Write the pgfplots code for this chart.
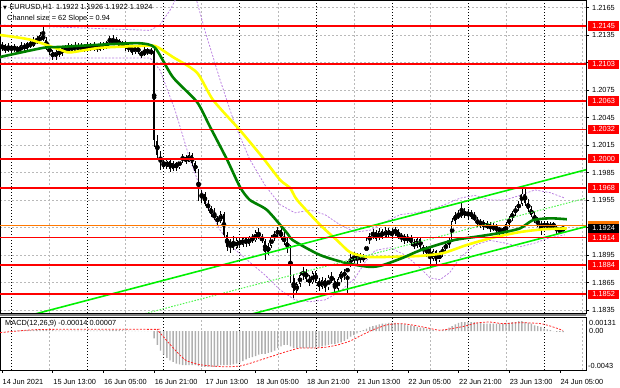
\documentclass[border=0pt]{standalone}
\usepackage{pgfplots}
\pgfplotsset{compat=1.18}
\usepackage{pgfplotstable}
\usepackage{fontspec}
\setmainfont{Liberation Sans}
\newfontfamily\symfont{DejaVu Sans}
\newcommand\lbl{\fontsize{7.4}{8.5}\selectfont}
\definecolor{gridgray}{RGB}{185,185,185}
\definecolor{lvlred}{RGB}{255,0,0}
\definecolor{madark}{RGB}{0,128,0}
\definecolor{mayel}{RGB}{255,255,0}
\definecolor{chan}{RGB}{0,240,0}
\definecolor{bband}{RGB}{185,125,225}
\definecolor{hist}{RGB}{175,175,175}
\definecolor{curorange}{RGB}{255,120,0}
\definecolor{sepgray}{RGB}{128,128,128}

\pgfplotstableread{
i o h l c
0 1.2120 1.2127 1.2118 1.2124
1 1.2124 1.2125 1.2115 1.2118
2 1.2118 1.2126 1.2117 1.2123
3 1.2123 1.2124 1.2116 1.2119
4 1.2119 1.2125 1.2117 1.2122
5 1.2122 1.2123 1.2114 1.2117
6 1.2117 1.2127 1.2116 1.2124
7 1.2124 1.2126 1.2118 1.2120
8 1.2120 1.2128 1.2119 1.2126
9 1.2126 1.2129 1.2121 1.2123
10 1.2123 1.2133 1.2122 1.2130
11 1.2130 1.2134 1.2125 1.2127
12 1.2127 1.2138 1.2126 1.2135
13 1.2135 1.2146 1.2128 1.2130
14 1.2130 1.2133 1.2119 1.2121
15 1.2121 1.2124 1.2113 1.2116
16 1.2116 1.2119 1.2108 1.2111
17 1.2111 1.2119 1.2108 1.2117
18 1.2117 1.2120 1.2111 1.2114
19 1.2114 1.2123 1.2112 1.2121
20 1.2121 1.2124 1.2115 1.2117
21 1.2117 1.2126 1.2115 1.2123
22 1.2123 1.2125 1.2116 1.2118
23 1.2118 1.2127 1.2117 1.2124
24 1.2124 1.2126 1.2117 1.2119
25 1.2119 1.2126 1.2117 1.2123
26 1.2123 1.2125 1.2117 1.2120
27 1.2120 1.2127 1.2118 1.2125
28 1.2125 1.2126 1.2118 1.2120
29 1.2120 1.2127 1.2118 1.2124
30 1.2124 1.2125 1.2117 1.2119
31 1.2119 1.2127 1.2118 1.2125
32 1.2125 1.2127 1.2119 1.2121
33 1.2121 1.2129 1.2120 1.2127
34 1.2127 1.2134 1.2125 1.2131
35 1.2131 1.2135 1.2124 1.2126
36 1.2126 1.2133 1.2124 1.2130
37 1.2130 1.2131 1.2121 1.2123
38 1.2123 1.2129 1.2121 1.2127
39 1.2127 1.2128 1.2118 1.2120
40 1.2120 1.2125 1.2117 1.2123
41 1.2123 1.2124 1.2113 1.2116
42 1.2116 1.2124 1.2114 1.2122
43 1.2122 1.2123 1.2114 1.2116
44 1.2116 1.2118 1.2110 1.2113
45 1.2113 1.2122 1.2112 1.2120
46 1.2120 1.2121 1.2113 1.2115
47 1.2115 1.2121 1.2113 1.2118
48 1.2118 1.2121 1.2013 1.2020
49 1.2020 1.2026 1.2000 1.2004
50 1.2004 1.2008 1.1988 1.1996
51 1.1996 1.2001 1.1989 1.1991
52 1.1991 1.2000 1.1989 1.1998
53 1.1998 1.2000 1.1986 1.1989
54 1.1989 1.1998 1.1987 1.1995
55 1.1995 1.1997 1.1987 1.1990
56 1.1990 1.2001 1.1989 1.1999
57 1.1999 1.2005 1.1995 1.2002
58 1.2002 1.2004 1.1994 1.1997
59 1.1997 1.2007 1.1996 1.2004
60 1.2004 1.2006 1.1992 1.1995
61 1.1995 1.1998 1.1984 1.1987
62 1.1987 1.1989 1.1954 1.1958
63 1.1958 1.1966 1.1952 1.1962
64 1.1962 1.1964 1.1948 1.1951
65 1.1951 1.1955 1.1943 1.1946
66 1.1946 1.1949 1.1936 1.1940
67 1.1940 1.1946 1.1933 1.1935
68 1.1935 1.1938 1.1928 1.1932
69 1.1932 1.1943 1.1930 1.1940
70 1.1940 1.1942 1.1914 1.1917
71 1.1917 1.1920 1.1899 1.1904
72 1.1904 1.1913 1.1897 1.1910
73 1.1910 1.1916 1.1900 1.1903
74 1.1903 1.1914 1.1901 1.1911
75 1.1911 1.1913 1.1903 1.1906
76 1.1906 1.1915 1.1904 1.1913
77 1.1913 1.1915 1.1904 1.1907
78 1.1907 1.1916 1.1905 1.1914
79 1.1914 1.1918 1.1908 1.1911
80 1.1911 1.1922 1.1909 1.1920
81 1.1920 1.1924 1.1912 1.1915
82 1.1915 1.1918 1.1908 1.1910
83 1.1910 1.1912 1.1890 1.1898
84 1.1898 1.1908 1.1895 1.1905
85 1.1905 1.1917 1.1903 1.1914
86 1.1914 1.1921 1.1910 1.1918
87 1.1918 1.1926 1.1914 1.1922
88 1.1922 1.1924 1.1911 1.1914
89 1.1914 1.1920 1.1906 1.1909
90 1.1909 1.1915 1.1897 1.1903
91 1.1903 1.1906 1.1865 1.1870
92 1.1870 1.1874 1.1848 1.1856
93 1.1856 1.1866 1.1852 1.1863
94 1.1863 1.1876 1.1860 1.1873
95 1.1873 1.1882 1.1868 1.1877
96 1.1877 1.1880 1.1866 1.1869
97 1.1869 1.1873 1.1861 1.1865
98 1.1865 1.1878 1.1863 1.1875
99 1.1875 1.1878 1.1864 1.1867
100 1.1867 1.1870 1.1856 1.1860
101 1.1860 1.1871 1.1858 1.1868
102 1.1868 1.1870 1.1855 1.1859
103 1.1859 1.1873 1.1857 1.1871
104 1.1871 1.1876 1.1864 1.1867
105 1.1867 1.1870 1.1851 1.1858
106 1.1858 1.1871 1.1856 1.1869
107 1.1869 1.1878 1.1866 1.1876
108 1.1876 1.1880 1.1868 1.1872
109 1.1872 1.1888 1.1852 1.1885
110 1.1885 1.1896 1.1882 1.1893
111 1.1893 1.1898 1.1886 1.1889
112 1.1889 1.1897 1.1885 1.1895
113 1.1895 1.1897 1.1886 1.1890
114 1.1890 1.1896 1.1887 1.1893
115 1.1893 1.1914 1.1891 1.1911
116 1.1911 1.1919 1.1907 1.1916
117 1.1916 1.1923 1.1912 1.1920
118 1.1920 1.1922 1.1910 1.1913
119 1.1913 1.1924 1.1911 1.1921
120 1.1921 1.1923 1.1913 1.1915
121 1.1915 1.1925 1.1913 1.1922
122 1.1922 1.1924 1.1914 1.1917
123 1.1917 1.1923 1.1913 1.1920
124 1.1920 1.1925 1.1916 1.1922
125 1.1922 1.1923 1.1912 1.1914
126 1.1914 1.1919 1.1909 1.1916
127 1.1916 1.1918 1.1907 1.1910
128 1.1910 1.1918 1.1908 1.1915
129 1.1915 1.1917 1.1905 1.1908
130 1.1908 1.1912 1.1902 1.1905
131 1.1905 1.1914 1.1903 1.1912
132 1.1912 1.1914 1.1901 1.1904
133 1.1904 1.1906 1.1896 1.1899
134 1.1899 1.1905 1.1893 1.1902
135 1.1902 1.1904 1.1882 1.1891
136 1.1891 1.1902 1.1889 1.1899
137 1.1899 1.1901 1.1884 1.1889
138 1.1889 1.1899 1.1887 1.1897
139 1.1897 1.1904 1.1893 1.1901
140 1.1901 1.1910 1.1898 1.1907
141 1.1907 1.1914 1.1903 1.1911
142 1.1911 1.1935 1.1909 1.1932
143 1.1932 1.1942 1.1929 1.1939
144 1.1939 1.1944 1.1934 1.1937
145 1.1937 1.1953 1.1935 1.1943
146 1.1943 1.1946 1.1935 1.1938
147 1.1938 1.1945 1.1934 1.1942
148 1.1942 1.1944 1.1934 1.1937
149 1.1937 1.1942 1.1932 1.1934
150 1.1934 1.1936 1.1926 1.1929
151 1.1929 1.1934 1.1924 1.1931
152 1.1931 1.1933 1.1922 1.1925
153 1.1925 1.1932 1.1923 1.1929
154 1.1929 1.1931 1.1920 1.1923
155 1.1923 1.1930 1.1921 1.1927
156 1.1927 1.1929 1.1918 1.1921
157 1.1921 1.1926 1.1915 1.1924
158 1.1924 1.1926 1.1916 1.1919
159 1.1919 1.1931 1.1917 1.1929
160 1.1929 1.1938 1.1926 1.1935
161 1.1935 1.1943 1.1932 1.1941
162 1.1941 1.1949 1.1938 1.1946
163 1.1946 1.1954 1.1943 1.1951
164 1.1951 1.1969 1.1949 1.1962
165 1.1962 1.1967 1.1949 1.1952
166 1.1952 1.1956 1.1942 1.1945
167 1.1945 1.1948 1.1936 1.1939
168 1.1939 1.1942 1.1930 1.1932
169 1.1932 1.1936 1.1926 1.1929
170 1.1929 1.1932 1.1917 1.1925
171 1.1925 1.1932 1.1923 1.1930
172 1.1930 1.1932 1.1922 1.1925
173 1.1925 1.1931 1.1922 1.1929
174 1.1929 1.1931 1.1923 1.1926
175 1.1926 1.1928 1.1918 1.1921
176 1.1921 1.1926 1.1919 1.1922
177 1.1922 1.1926 1.1922 1.1924
}\candles

\pgfplotstableread{
i m
0 -0.00003
1 -0.00002
2 0.00001
3 0.00003
4 0.00004
5 0.00005
6 0.00007
7 0.00008
8 0.00010
9 0.00012
10 0.00015
11 0.00018
12 0.00022
13 0.00022
14 0.00018
15 0.00014
16 0.00010
17 0.00006
18 0.00005
19 0.00005
20 0.00006
21 0.00005
22 0.00005
23 0.00006
24 0.00005
25 0.00005
26 0.00006
27 0.00006
28 0.00005
29 0.00006
30 0.00006
31 0.00007
32 0.00007
33 0.00008
34 0.00010
35 0.00013
36 0.00012
37 0.00010
38 0.00010
39 0.00008
40 0.00006
41 0.00003
42 0.00003
43 0.00002
44 -0.00001
45 0.00000
46 -0.00001
47 -0.00001
48 -0.0009
49 -0.0017
50 -0.0024
51 -0.0029
52 -0.0033
53 -0.0036
54 -0.0038
55 -0.0040
56 -0.0041
57 -0.0042
58 -0.0042
59 -0.0042
60 -0.0042
61 -0.0042
62 -0.0043
63 -0.0044
64 -0.0044
65 -0.0044
66 -0.0044
67 -0.0044
68 -0.0043
69 -0.0042
70 -0.0042
71 -0.0042
72 -0.0042
73 -0.0041
74 -0.0040
75 -0.0039
76 -0.0037
77 -0.0035
78 -0.0033
79 -0.0032
80 -0.0031
81 -0.0029
82 -0.0028
83 -0.0028
84 -0.0027
85 -0.0026
86 -0.0024
87 -0.0021
88 -0.0019
89 -0.0017
90 -0.0017
91 -0.0019
92 -0.0021
93 -0.0021
94 -0.0021
95 -0.0021
96 -0.0021
97 -0.0021
98 -0.0021
99 -0.0020
100 -0.0020
101 -0.0019
102 -0.0018
103 -0.0017
104 -0.0016
105 -0.0016
106 -0.0015
107 -0.0014
108 -0.0012
109 -0.0010
110 -0.0007
111 -0.0005
112 -0.0003
113 -0.0001
114 0.0001
115 0.0003
116 0.0005
117 0.0006
118 0.0007
119 0.0008
120 0.0009
121 0.0009
122 0.0010
123 0.0010
124 0.0010
125 0.0009
126 0.0009
127 0.0008
128 0.0007
129 0.0007
130 0.0006
131 0.0005
132 0.0004
133 0.0004
134 0.0003
135 0.0002
136 0.0001
137 0.0000
138 0.0000
139 0.0001
140 0.0002
141 0.0004
142 0.0006
143 0.0008
144 0.0010
145 0.0011
146 0.0011
147 0.0011
148 0.0011
149 0.0011
150 0.0010
151 0.0010
152 0.0009
153 0.0009
154 0.0009
155 0.0009
156 0.0009
157 0.0009
158 0.0009
159 0.0010
160 0.0010
161 0.0011
162 0.0011
163 0.0012
164 0.0012
165 0.0011
166 0.0010
167 0.0009
168 0.0007
169 0.0006
170 0.0005
171 0.0003
172 0.0002
173 0.0001
174 0.0000
175 -0.0001
176 -0.0001
177 -0.00014
}\macd

\begin{document}
\begin{tikzpicture}
\useasboundingbox (0,0) rectangle (620bp,388bp);

% ---------------- main price panel ----------------
\begin{axis}[
  at={(0bp,388bp)}, anchor=north west,
  width=586bp, height=313bp, scale only axis,
  xmin=-0.63, xmax=184.23, ymin=1.18317, ymax=1.21732,
  clip mode=individual,
  axis line style={black, line width=0.5bp},
  xtick={15,39,63,87,111,135,159,183}, xticklabels={},
  xtick style={draw=none},
  extra x ticks={3,27,51,75,99,123,147,171}, extra x tick labels={},
  extra x tick style={grid=major, major tick length=0pt,
     major grid style={black, dash pattern=on 1bp off 2bp, line width=0.6bp}},
  ytick={1.1835,1.1865,1.1895,1.1925,1.1955,1.1985,1.2015,1.2045,1.2075,1.2105,1.2135,1.2165},
  yticklabels={}, ytick pos=right, tick align=outside, major tick length=3bp,
  ytick style={black, line width=0.5bp},
  grid=major,
  major grid style={gridgray, dash pattern=on 2bp off 2bp, line width=0.5bp},
  scaled y ticks=false, scaled x ticks=false,
]
% Bollinger-type bands
\addplot[bband, dash pattern=on 2bp off 1.5bp, line width=0.75bp] coordinates {
(-0.6,1.2110) (46.7,1.2110) (49.8,1.2097) (54.6,1.2053) (59.3,1.1999) (64.0,1.1955)
(68.8,1.1922) (73.5,1.1901) (78.2,1.1887) (83.0,1.1873) (87.7,1.1857) (92.4,1.1846)
(97.2,1.1844) (101.9,1.1846) (106.6,1.1855) (111.4,1.1870) (114.5,1.1887) (117.7,1.1900)
(122.4,1.1903) (127.1,1.1895) (131.9,1.1881) (135.0,1.1870) (138.2,1.1868) (141.3,1.1876)
(144.5,1.1892) (149.2,1.1906) (153.9,1.1911) (158.7,1.1908) (163.4,1.1904) (168.1,1.1908)
(172.9,1.1914) (177.6,1.1917)};
\addplot[bband, dash pattern=on 2bp off 1.5bp, line width=0.75bp] coordinates {
(-0.6,1.2146) (46.7,1.2140) (49.8,1.2146) (53.0,1.2162) (55.5,1.2179) (60.9,1.2179)
(64.0,1.2140) (68.8,1.2086) (73.5,1.2037) (78.2,1.1999) (83.0,1.1971) (87.7,1.1950)
(92.4,1.1941) (97.2,1.1944) (101.9,1.1939) (106.6,1.1928) (111.4,1.1920) (116.1,1.1922)
(120.8,1.1931) (125.6,1.1939) (130.3,1.1941) (135.0,1.1944) (139.7,1.1950) (144.5,1.1957)
(149.2,1.1960) (153.9,1.1955) (158.7,1.1955) (163.4,1.1960) (168.1,1.1966) (172.9,1.1963)
(177.6,1.1957)};
% candles: wicks
\addplot[only marks, mark=none, forget plot,
  error bars/.cd, y dir=both, y explicit, error mark=none,
  error bar style={black, solid, line width=0.7bp, line cap=butt}]
  table[x=i, y expr={(\thisrow{h}+\thisrow{l})/2}, y error expr={(\thisrow{h}-\thisrow{l})/2}] {\candles};
% candles: bodies
\addplot[only marks, mark=none, forget plot,
  error bars/.cd, y dir=both, y explicit, error mark=none,
  error bar style={black, solid, line width=1.9bp, line cap=butt}]
  table[x=i, y expr={(\thisrow{o}+\thisrow{c})/2}, y error expr={max(abs(\thisrow{c}-\thisrow{o})/2,0.00004)}] {\candles};
% bullish bodies hollow
\addplot[only marks, mark=none, forget plot,
  error bars/.cd, y dir=both, y explicit, error mark=none,
  error bar style={white, solid, line width=0.7bp, line cap=butt}]
  table[x=i, y expr={(\thisrow{o}+\thisrow{c})/2}, y error expr={max((\thisrow{c}-\thisrow{o})/2-0.00009,0)}] {\candles};
% moving averages
\addplot[mayel, line width=2.6bp, smooth, tension=0.4] coordinates {
(-0.6,1.2135) (8.8,1.2130) (18.3,1.2119) (21.5,1.2116) (30.9,1.2121) (43.5,1.2123)
(48.3,1.2123) (53.9,1.2111) (61.5,1.2094) (66.6,1.2064) (75.1,1.2031) (82.3,1.2001)
(87.7,1.1977) (90.9,1.1968) (93.1,1.1955) (100.3,1.1928) (105.7,1.1911) (109.8,1.1898)
(115.1,1.1893) (123.3,1.1893) (131.9,1.1894) (139.1,1.1897) (146.7,1.1906) (154.9,1.1914)
(163.4,1.1920) (170.7,1.1923) (178.2,1.1924)};
\addplot[madark, line width=2.6bp, smooth, tension=0.4] coordinates {
(-0.6,1.2111) (13,1.2121) (18.3,1.2122) (34.1,1.2125) (43.5,1.2126) (48.3,1.2121)
(53.9,1.2089) (61.5,1.2062) (65.6,1.2035) (71,1.1999) (75.1,1.1969) (78.2,1.1955)
(83.6,1.1944) (89.9,1.1919) (91.8,1.1911) (100.3,1.1895) (108.8,1.1886) (116.1,1.1882)
(120.2,1.1884) (126.5,1.1892) (131.9,1.1900) (142.3,1.1911) (149.8,1.1915) (157.1,1.1919)
(163.4,1.1924) (167.5,1.1933) (172.9,1.1935) (178.2,1.1934)};
% regression channel
\addplot[chan, line width=1.6bp] coordinates {(-0.63,1.18206) (184.23,1.19880)};
\addplot[chan, line width=1.6bp] coordinates {(-0.63,1.17586) (184.23,1.19260)};
\addplot[chan!70, line width=1bp, dash pattern=on 1.5bp off 1.5bp] coordinates {(-0.63,1.17896) (184.23,1.19570)};
% horizontal levels
\pgfplotsinvokeforeach{1.2145,1.2103,1.2063,1.2032,1.2000,1.1968,1.1914,1.1884,1.1852}{
  \addplot[lvlred, line width=1.8bp] coordinates {(-1,#1) (185,#1)};
}
\addplot[curorange, line width=0.8bp] coordinates {(-1,1.1927) (185,1.1927)};
% right-hand price labels
\pgfplotsinvokeforeach{1.1835,1.1865,1.1895,1.1955,1.1985,1.2015,1.2045,1.2075,1.2135,1.2165}{
  \node[font=\lbl, anchor=west, inner sep=0pt] at ([xshift=6bp]axis cs:184.23,#1) {#1};
}
\pgfplotsinvokeforeach{1.2145,1.2103,1.2063,1.2032,1.2000,1.1968,1.1914,1.1884,1.1852}{
  \node[fill=lvlred, text=white, font=\lbl, inner sep=0pt, minimum width=31bp, minimum height=9.5bp, anchor=west] at ([xshift=2bp]axis cs:184.23,#1) {#1};
}
\node[fill=curorange, inner sep=0pt, minimum width=31bp, minimum height=9.5bp, anchor=west] at ([xshift=2bp]axis cs:184.23,1.1927) {};
\node[fill=black, text=white, font=\lbl, inner sep=0pt, minimum width=31bp, minimum height=9.5bp, anchor=west] at ([xshift=2bp]axis cs:184.23,1.1924) {1.1924};
\end{axis}

% ---------------- MACD panel ----------------
\begin{axis}[
  at={(0bp,71bp)}, anchor=north west,
  width=586bp, height=53bp, scale only axis,
  xmin=-0.63, xmax=184.23, ymin=-0.00479, ymax=0.00172,
  clip mode=individual,
  axis line style={black, line width=0.5bp},
  xtick={0,16,...,176},
  xticklabels={14 Jun 2021,15 Jun 13:00,16 Jun 05:00,16 Jun 21:00,17 Jun 13:00,18 Jun 05:00,18 Jun 21:00,21 Jun 13:00,22 Jun 05:00,22 Jun 21:00,23 Jun 13:00,24 Jun 05:00},
  xtick pos=bottom, tick align=outside, major tick length=3bp,
  xtick style={black, line width=0.5bp},
  xticklabel style={font=\lbl, anchor=north west, inner sep=0pt, xshift=0.5bp, yshift=-6bp},
  minor xtick={15,39,63,87,111,135,159,183}, xminorgrids, minor tick length=0pt,
  minor grid style={gridgray, dash pattern=on 2bp off 2bp, line width=0.5bp},
  extra x ticks={3,27,51,75,99,123,147,171}, extra x tick labels={},
  extra x tick style={xmajorgrids=true, major tick length=0pt,
     major grid style={black, dash pattern=on 1bp off 2bp, line width=0.6bp}},
  ytick={-0.0043,0,0.00131}, yticklabels={}, ytick style={draw=none},
  ymajorgrids=false,
  scaled y ticks=false, scaled x ticks=false,
]
\addplot[ybar, bar width=1.4bp, bar shift=0pt, fill=hist, draw=none] table[x=i, y=m] {\macd};
\addplot[lvlred!85!white, line width=0.8bp, dash pattern=on 2bp off 1.5bp, smooth, tension=0.4] coordinates {
(-0.6,-0.0002) (8,0.0001) (15,0.0002) (47,0.0002) (49,0.0001) (52,-0.0012) (55,-0.0025)
(58,-0.0036) (62,-0.0041) (66,-0.0043) (71,-0.0044) (75,-0.0043) (78,-0.0040) (82,-0.0035)
(86,-0.0030) (90,-0.0025) (94,-0.0021) (98,-0.0021) (102,-0.0020) (106,-0.0017) (110,-0.0012)
(114,-0.0004) (118,0.0003) (122,0.0008) (126,0.0009) (130,0.0007) (134,0.0004) (138,0.0001)
(142,0.0003) (146,0.0006) (150,0.0010) (154,0.0011) (158,0.0009) (162,0.0010) (166,0.0010)
(170,0.0009) (173,0.0006) (177,0.00007)};
\node[font=\lbl, anchor=west, inner sep=0pt] at ([xshift=3bp]axis cs:184.23,0.00098) {0.00131};
\node[font=\lbl, anchor=west, inner sep=0pt] at ([xshift=3bp]axis cs:184.23,0) {0.00};
\node[font=\lbl, anchor=west, inner sep=0pt] at ([xshift=2bp]axis cs:184.23,-0.0043) {-0.0043};
\end{axis}

% separator between panels
\fill[sepgray] (0bp,71.5bp) rectangle (586bp,74bp);

% titles
\node[anchor=west, inner sep=0pt] at (3bp,380.5bp) {{\symfont\fontsize{5}{6}\selectfont ▼}\hspace{2.5bp}{\lbl EURUSD,H1\hspace{4bp}1.1922 1.1926 1.1922 1.1924}};
\node[anchor=west, inner sep=0pt, font=\lbl] at (7bp,369.5bp) {Channel size = 62 Slope = 0.94};
\node[anchor=west, inner sep=0pt, font=\lbl] at (5bp,64bp) {MACD(12,26,9) -0.00014 0.00007};
\end{tikzpicture}
\end{document}
